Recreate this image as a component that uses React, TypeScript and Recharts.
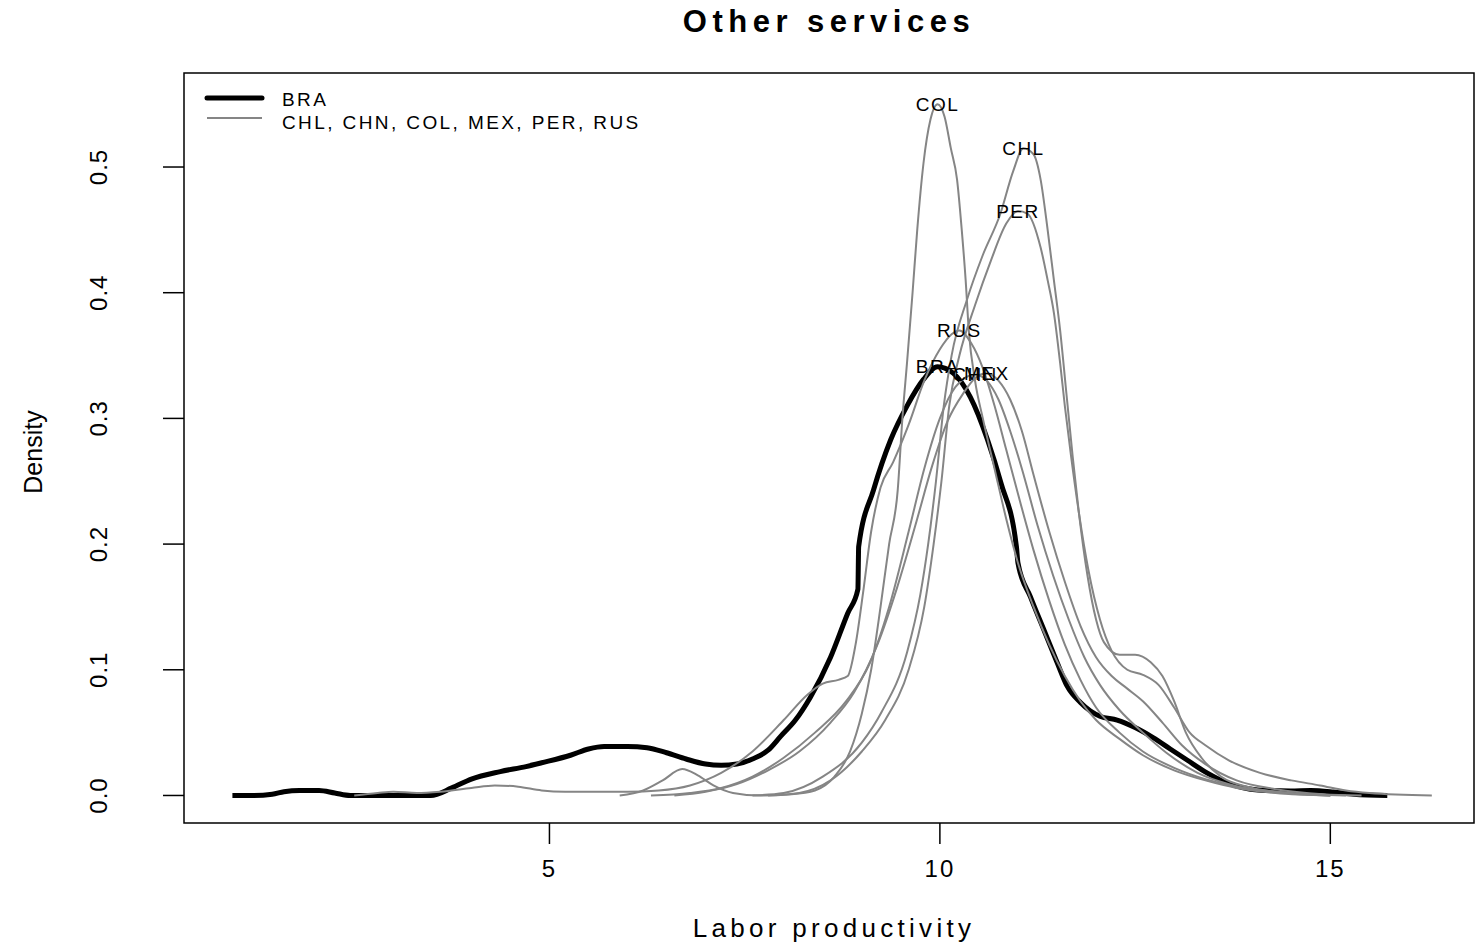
import { LineChart, Line, XAxis, YAxis, ReferenceArea, ReferenceDot } from "recharts";

// density curves, [labor productivity, density]
const bra = [
  [0.94, 0], [1.2, 0], [1.45, 0.001], [1.6, 0.003], [1.8, 0.004], [2.05, 0.004], [2.25, 0.002],
  [2.45, 0], [2.8, 0], [3.2, 0], [3.48, 0], [3.75, 0.006], [4.0, 0.013], [4.37, 0.019], [4.7, 0.023],
  [4.9, 0.026], [5.27, 0.032], [5.5, 0.037], [5.7, 0.039], [6.0, 0.039], [6.25, 0.038], [6.5, 0.034],
  [6.75, 0.029], [7.0, 0.025], [7.2, 0.024], [7.4, 0.025], [7.6, 0.029], [7.8, 0.036], [7.96, 0.047],
  [8.15, 0.06], [8.34, 0.078], [8.6, 0.11], [8.82, 0.145], [8.95, 0.164], [8.96, 0.198], [9.15, 0.243],
  [9.37, 0.283], [9.58, 0.31], [9.79, 0.331], [9.97, 0.341], [10.17, 0.336], [10.39, 0.317],
  [10.61, 0.283], [10.78, 0.249], [10.98, 0.198], [11.0, 0.185], [11.16, 0.158], [11.33, 0.132],
  [11.5, 0.106], [11.63, 0.087], [11.8, 0.074], [12.05, 0.063], [12.27, 0.06], [12.5, 0.054],
  [12.73, 0.046], [12.95, 0.037], [13.17, 0.028], [13.42, 0.018], [13.68, 0.01], [14.07, 0.0044],
  [14.49, 0.0036], [14.75, 0.004], [15.04, 0.0028], [15.3, 0.001], [15.73, 0],
];

const chl = [
  [7.6, 0], [8.0, 0.002], [8.5, 0.015], [9.0, 0.042], [9.25, 0.066], [9.58, 0.114], [9.75, 0.16],
  [9.85, 0.2], [9.95, 0.25], [10.05, 0.31], [10.15, 0.35], [10.35, 0.395], [10.55, 0.43], [10.77, 0.462],
  [10.94, 0.497], [11.07, 0.515], [11.2, 0.51], [11.29, 0.49], [11.38, 0.45], [11.46, 0.41], [11.54, 0.37],
  [11.62, 0.32], [11.7, 0.27], [11.78, 0.225], [11.89, 0.175], [12.0, 0.14], [12.1, 0.122], [12.3, 0.112],
  [12.5, 0.112], [12.7, 0.106], [12.85, 0.095], [13.0, 0.075], [13.15, 0.05], [13.35, 0.03], [13.6, 0.015],
  [14.0, 0.006], [14.5, 0.002], [15.2, 0],
];

const chn = [
  [6.3, 0], [6.8, 0.002], [7.2, 0.006], [7.6, 0.015], [8.0, 0.03], [8.4, 0.05], [8.8, 0.075], [9.1, 0.105],
  [9.35, 0.15], [9.6, 0.21], [9.8, 0.26], [10.0, 0.3], [10.2, 0.325], [10.45, 0.335], [10.6, 0.33],
  [10.75, 0.315], [10.9, 0.29], [11.05, 0.26], [11.25, 0.215], [11.45, 0.175], [11.65, 0.14], [11.85, 0.11],
  [12.05, 0.088], [12.3, 0.068], [12.6, 0.05], [12.9, 0.034], [13.3, 0.018], [13.7, 0.009], [14.2, 0.003],
  [15.0, 0],
];

const col = [
  [5.9, 0], [6.2, 0.004], [6.45, 0.012], [6.7, 0.021], [6.9, 0.016], [7.1, 0.008], [7.35, 0.002], [7.7, 0],
  [8.1, 0.001], [8.4, 0.004], [8.65, 0.015], [8.85, 0.035], [9.0, 0.065], [9.12, 0.1], [9.24, 0.15],
  [9.35, 0.2], [9.46, 0.243], [9.52, 0.3], [9.58, 0.345], [9.65, 0.4], [9.71, 0.45], [9.79, 0.503],
  [9.88, 0.538], [9.97, 0.55], [10.06, 0.54], [10.14, 0.515], [10.22, 0.49], [10.28, 0.45], [10.33, 0.41],
  [10.37, 0.37], [10.45, 0.33], [10.55, 0.3], [10.7, 0.26], [10.85, 0.22], [11.0, 0.185], [11.2, 0.15],
  [11.4, 0.12], [11.6, 0.095], [11.8, 0.075], [12.0, 0.06], [12.3, 0.045], [12.6, 0.032], [13.0, 0.02],
  [13.4, 0.012], [13.8, 0.006], [14.3, 0.002], [15.0, 0],
];

const mex = [
  [6.6, 0], [7.0, 0.003], [7.4, 0.009], [7.8, 0.02], [8.2, 0.035], [8.6, 0.058], [8.9, 0.082], [9.2, 0.12],
  [9.45, 0.165], [9.7, 0.218], [9.9, 0.262], [10.1, 0.298], [10.3, 0.32], [10.45, 0.332], [10.6, 0.336],
  [10.75, 0.33], [10.9, 0.315], [11.05, 0.29], [11.2, 0.255], [11.4, 0.21], [11.6, 0.17], [11.8, 0.135],
  [12.0, 0.11], [12.2, 0.095], [12.4, 0.085], [12.6, 0.075], [12.85, 0.058], [13.1, 0.04], [13.4, 0.025],
  [13.8, 0.012], [14.3, 0.005], [14.9, 0.001], [15.4, 0],
];

const per = [
  [7.8, 0], [8.2, 0.002], [8.6, 0.012], [9.0, 0.035], [9.3, 0.06], [9.6, 0.1], [9.8, 0.15], [9.92, 0.2],
  [10.02, 0.25], [10.12, 0.31], [10.25, 0.35], [10.45, 0.39], [10.65, 0.425], [10.85, 0.455], [11.0, 0.465],
  [11.12, 0.463], [11.29, 0.436], [11.38, 0.41], [11.46, 0.384], [11.54, 0.344], [11.6, 0.31], [11.68, 0.27],
  [11.78, 0.225], [11.9, 0.18], [12.05, 0.14], [12.2, 0.115], [12.4, 0.1], [12.6, 0.096], [12.8, 0.088],
  [13.0, 0.07], [13.2, 0.05], [13.4, 0.04], [13.7, 0.028], [14.1, 0.018], [14.5, 0.012], [14.87, 0.008],
  [15.2, 0.004], [15.5, 0.002], [16.3, 0],
];

const rus = [
  [2.5, 0], [2.8, 0.002], [3.0, 0.003], [3.3, 0.002], [3.6, 0.003], [4.0, 0.006], [4.3, 0.008], [4.6, 0.007],
  [4.9, 0.004], [5.2, 0.003], [5.6, 0.003], [6.0, 0.003], [6.4, 0.004], [6.8, 0.008], [7.2, 0.018],
  [7.6, 0.035], [8.0, 0.06], [8.3, 0.08], [8.5, 0.089], [8.7, 0.092], [8.82, 0.095], [8.92, 0.12],
  [9.02, 0.163], [9.12, 0.21], [9.24, 0.245], [9.4, 0.265], [9.6, 0.295], [9.8, 0.33], [10.0, 0.355],
  [10.15, 0.367], [10.25, 0.37], [10.4, 0.36], [10.55, 0.34], [10.7, 0.31], [10.85, 0.275], [11.0, 0.24],
  [11.2, 0.195], [11.4, 0.155], [11.6, 0.12], [11.8, 0.092], [12.0, 0.07], [12.3, 0.05], [12.6, 0.035],
  [13.0, 0.022], [13.4, 0.013], [13.8, 0.007], [14.3, 0.003], [15.0, 0],
];

const mainName = "BRA";
const otherNames = ["CHL", "CHN", "COL", "MEX", "PER", "RUS"];
const otherCurves = [chl, chn, col, mex, per, rus];

const xTicks = [5, 10, 15];
const yTicks = [0, 0.1, 0.2, 0.3, 0.4, 0.5];
const xDomain = [0.32, 16.84];
const yDomain = [-0.0219, 0.5748];

const toRows = (pts: number[][]) => pts.map(([x, y]) => ({ x, y }));
const peakOf = (pts: number[][]) => pts.reduce((a, b) => (b[1] > a[1] ? b : a));

const allNames = [mainName, ...otherNames];
const allCurves = [bra, ...otherCurves];

const font = "'Liberation Sans', Arial, sans-serif";
const grey = "#858585";

const XTick = ({ x, y, payload }: any) => (
  <text x={x} y={y + 22} textAnchor="middle" dominantBaseline="central"
    fontFamily={font} fontSize={24} letterSpacing={2} fill="#000">
    {payload.value}
  </text>
);

const YTick = ({ x, y, payload }: any) => (
  <text x={x - 62} y={y} transform={`rotate(-90, ${x - 62}, ${y})`} textAnchor="middle"
    dominantBaseline="central" fontFamily={font} fontSize={24} letterSpacing={1} fill="#000">
    {payload.value.toFixed(1)}
  </text>
);

const PeakLabel = ({ viewBox, value }: any) => {
  const cx = viewBox.x + (viewBox.width || 0) / 2;
  const cy = viewBox.y + (viewBox.height || 0) / 2;
  return (
    <text x={cx} y={cy} textAnchor="middle" dominantBaseline="central"
      fontFamily={font} fontSize={19} letterSpacing={1.5} fill="#000">
      {value}
    </text>
  );
};

export default function App() {
  return (
    <div style={{ position: "absolute", left: 0, top: 0, width: 1476, height: 943, background: "#fff" }}>
      <LineChart width={1476} height={943} margin={{ top: 73, right: 2, bottom: 0, left: 0 }}>
        <XAxis type="number" dataKey="x" domain={xDomain} ticks={xTicks} allowDataOverflow
          axisLine={false} tickSize={21} tickLine={{ stroke: "#000", strokeWidth: 1.5 }}
          tick={<XTick />} height={120} />
        <YAxis type="number" dataKey="y" domain={yDomain} ticks={yTicks} allowDataOverflow
          axisLine={false} tickSize={21} tickLine={{ stroke: "#000", strokeWidth: 1.5 }}
          tick={<YTick />} width={184} />
        <ReferenceArea x1={xDomain[0]} x2={xDomain[1]} y1={yDomain[0]} y2={yDomain[1]}
          fill="none" stroke="#000" strokeWidth={1.5} fillOpacity={0} />
        <Line data={toRows(bra)} dataKey="y" type="monotone" stroke="#000" strokeWidth={5}
          dot={false} isAnimationActive={false} />
        {otherCurves.map((pts, i) => (
          <Line key={otherNames[i]} data={toRows(pts)} dataKey="y" type="monotone" stroke={grey}
            strokeWidth={2} dot={false} isAnimationActive={false} />
        ))}
        {allCurves.map((pts, i) => {
          const [px, py] = peakOf(pts);
          return (
            <ReferenceDot key={"lbl" + allNames[i]} x={px} y={py} r={0} stroke="none"
              label={<PeakLabel value={allNames[i]} />} />
          );
        })}
      </LineChart>

      <div style={{ position: "absolute", left: 829, top: 22, transform: "translate(-50%, -50%)",
        fontFamily: font, fontWeight: "bold", fontSize: 31, letterSpacing: 5.5, whiteSpace: "nowrap" }}>
        Other services
      </div>
      <div style={{ position: "absolute", left: 834, top: 928, transform: "translate(-50%, -50%)",
        fontFamily: font, fontSize: 26, letterSpacing: 4.3, whiteSpace: "nowrap" }}>
        Labor productivity
      </div>
      <div style={{ position: "absolute", left: 33, top: 452, transform: "translate(-50%, -50%) rotate(-90deg)",
        fontFamily: font, fontSize: 25, whiteSpace: "nowrap" }}>
        Density
      </div>

      <svg style={{ position: "absolute", left: 200, top: 85 }} width={480} height={50}>
        <line x1={7} x2={62} y1={13} y2={13} stroke="#000" strokeWidth={5} strokeLinecap="round" />
        <line x1={7} x2={62} y1={33} y2={33} stroke={grey} strokeWidth={2} />
        <text x={82} y={14} dominantBaseline="central" fontFamily={font} fontSize={19} letterSpacing={2.4}>
          {mainName}
        </text>
        <text x={82} y={37} dominantBaseline="central" fontFamily={font} fontSize={19} letterSpacing={2.4}>
          {otherNames.join(", ")}
        </text>
      </svg>
    </div>
  );
}
